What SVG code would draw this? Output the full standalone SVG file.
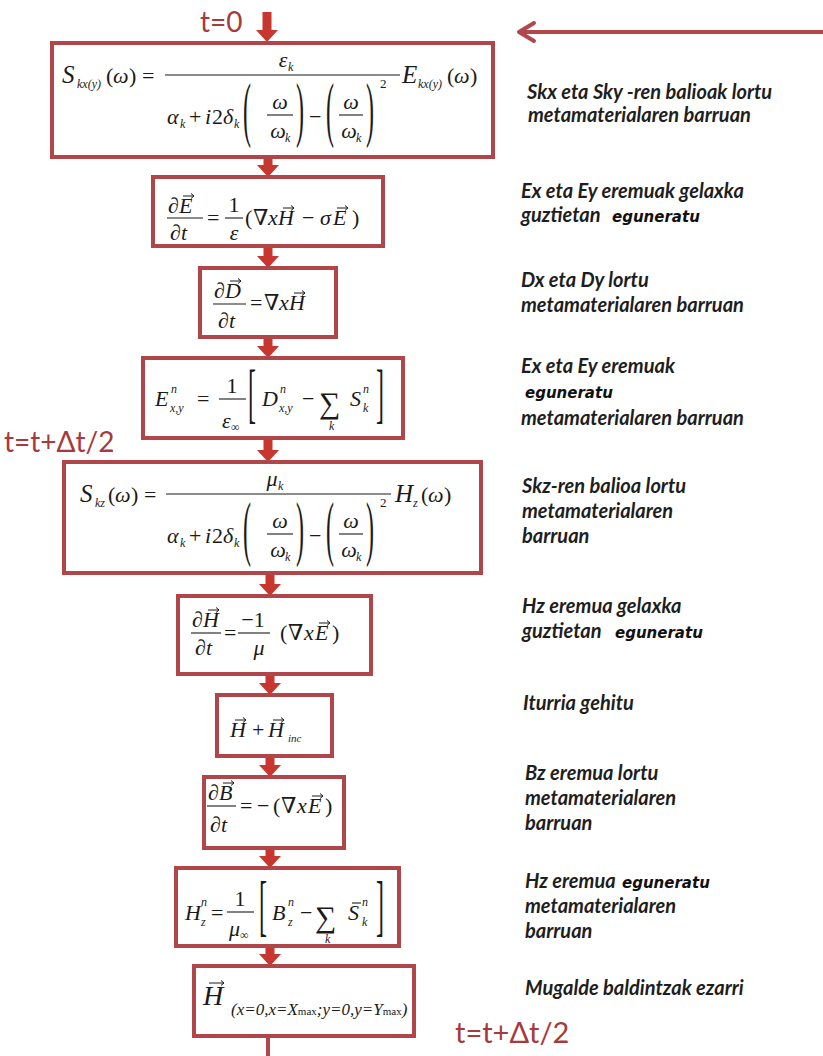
<svg xmlns="http://www.w3.org/2000/svg" width="823" height="1056" viewBox="0 0 823 1056">
<style>
.box{fill:#fff;stroke:#b0454a;stroke-width:4}
.arr{fill:#c7362f}
.f{font-family:"Liberation Serif","DejaVu Serif",serif;font-size:22px;fill:#1a1a1a}
.it{font-style:italic}
.sb{font-size:12px}
.bar{stroke:#1a1a1a;stroke-width:1.1}
.va{fill:none;stroke:#1a1a1a;stroke-width:1}
.lbl{font-family:Lato,"Open Sans",sans-serif;font-weight:bold;font-style:italic;font-size:20px;fill:#1e1e1e}
.eg{font-family:"DejaVu Sans",sans-serif;font-weight:bold;font-style:italic;font-size:15px;fill:#111}
.red{font-family:Lato,"Open Sans",sans-serif;font-size:28px;fill:#a63a3c}
</style>
<rect width="823" height="1056" fill="#fff"/>
<g id="connectors">
<path d="M823 32 H521" fill="none" stroke="#b0474b" stroke-width="4"/>
<path d="M534 23 L519 32 L534 41" fill="none" stroke="#b0474b" stroke-width="4" stroke-linecap="round" stroke-linejoin="round"/>
<polygon class="arr" points="262.5,12 271.5,12 271.5,30 278,30 267,42 256,30 262.5,30"/>
<polygon class="arr" points="263.5,158 272.5,158 272.5,165 279,165 268,177 257,165 263.5,165"/>
<polygon class="arr" points="263.5,247 272.5,247 272.5,256 279,256 268,268 257,256 263.5,256"/>
<polygon class="arr" points="263.5,338 272.5,338 272.5,346 279,346 268,358 257,346 263.5,346"/>
<polygon class="arr" points="263.5,439 272.5,439 272.5,450 279,450 268,462 257,450 263.5,450"/>
<polygon class="arr" points="265.5,574 274.5,574 274.5,584 281,584 270,596 259,584 265.5,584"/>
<polygon class="arr" points="265.5,676 274.5,676 274.5,683 281,683 270,695 259,683 265.5,683"/>
<polygon class="arr" points="265.5,757 274.5,757 274.5,765 281,765 270,777 259,765 265.5,765"/>
<polygon class="arr" points="265.5,849 274.5,849 274.5,856 281,856 270,868 259,856 265.5,856"/>
<polygon class="arr" points="265.5,947 274.5,947 274.5,954 281,954 270,966 259,954 265.5,954"/>
<path d="M268 1036 V1056" stroke="#b0454a" stroke-width="4"/>
</g>
<g id="time-labels">
<text class="red" x="200" y="32">t=0</text>
<text class="red" x="4" y="452">t=t+Δt/2</text>
<text class="red" x="455" y="1043" style="font-size:29px">t=t+Δt/2</text>
</g>
<g id="node1">
<rect class="box" x="52" y="43" width="441" height="114"/>
<text class="f it" x="62" y="83" style="font-size:25px">S</text>
<text class="f it sb" x="77" y="88">kx(y)</text>
<text class="f" x="106" y="83">(</text><text class="f it" x="113" y="83">ω</text><text class="f" x="129" y="83">)</text><text class="f" x="142" y="83">=</text>
<line class="bar" x1="165" y1="75" x2="400" y2="75"/>
<text class="f it" x="283" y="67" text-anchor="middle">ε</text><text class="f it sb" x="288" y="71">k</text>
<text class="f it" x="167" y="124">α</text><text class="f it sb" x="180" y="128">k</text>
<text class="f" x="189" y="124">+</text><text class="f it" x="205" y="124">i</text><text class="f" x="212" y="124">2</text><text class="f it" x="223" y="124">δ</text><text class="f it sb" x="234" y="128">k</text>
<text class="f" style="font-size:24px" transform="translate(243,133) scale(1,3)">(</text>
<text class="f it" x="280" y="109" text-anchor="middle">ω</text><line class="bar" x1="267" y1="115" x2="293" y2="115"/><text class="f it" x="278" y="138" text-anchor="middle">ω</text><text class="f it sb" x="285" y="142">k</text>
<text class="f" style="font-size:24px" transform="translate(296,133) scale(1,3)">)</text>
<text class="f" x="309" y="124">−</text>
<text class="f" style="font-size:24px" transform="translate(326,133) scale(1,3)">(</text>
<text class="f it" x="351" y="109" text-anchor="middle">ω</text><line class="bar" x1="339" y1="115" x2="363" y2="115"/><text class="f it" x="349" y="138" text-anchor="middle">ω</text><text class="f it sb" x="356" y="142">k</text>
<text class="f" style="font-size:24px" transform="translate(366,133) scale(1,3)">)</text>
<text class="f" x="380" y="88" style="font-size:13px">2</text>
<text class="f it" x="402" y="83" style="font-size:25px">E</text><text class="f it sb" x="418" y="88">kx(y)</text>
<text class="f" x="447" y="83">(</text><text class="f it" x="454" y="83">ω</text><text class="f" x="470" y="83">)</text>
</g>
<g id="node2">
<rect class="box" x="153" y="177" width="230" height="69"/>
<text class="f" x="168" y="213">∂</text><text class="f it" x="179" y="213">E</text>
<path class="va" d="M183 196 H194 M191 193.5 L194 196 L191 198.5"/>
<line class="bar" x1="167" y1="218" x2="203" y2="218"/>
<text class="f" x="170" y="240">∂</text><text class="f it" x="181" y="240">t</text>
<text class="f" x="207" y="225">=</text>
<text class="f" x="234" y="212" text-anchor="middle">1</text>
<line class="bar" x1="225" y1="218" x2="243" y2="218"/>
<text class="f it" x="234" y="240" text-anchor="middle">ε</text>
<text class="f" x="245" y="225">(</text><text class="f" x="253" y="225">∇</text><text class="f it" x="268" y="225">x</text><text class="f it" x="278" y="225">H</text>
<path class="va" d="M283 208 H294 M291 205.5 L294 208 L291 210.5"/>
<text class="f" x="302" y="225">−</text><text class="f it" x="320" y="225">σ</text><text class="f it" x="333" y="225">E</text>
<path class="va" d="M337 208 H348 M345 205.5 L348 208 L345 210.5"/>
<text class="f" x="352" y="225">)</text>
</g>
<g id="node3">
<rect class="box" x="200" y="268" width="136" height="69"/>
<text class="f" x="214" y="298">∂</text><text class="f it" x="225" y="298">D</text>
<path class="va" d="M230 281 H241 M238 278.5 L241 281 L238 283.5"/>
<line class="bar" x1="213" y1="304" x2="246" y2="304"/>
<text class="f" x="218" y="328">∂</text><text class="f it" x="229" y="328">t</text>
<text class="f" x="250" y="310">=</text>
<text class="f" x="264" y="310">∇</text><text class="f it" x="279" y="310">x</text><text class="f it" x="289" y="310">H</text>
<path class="va" d="M294 293 H305 M302 290.5 L305 293 L302 295.5"/>
</g>
<g id="node4">
<rect class="box" x="143" y="358" width="260" height="80"/>
<text class="f it" x="155" y="406">E</text><text class="f it sb" x="171" y="393">n</text><text class="f it sb" x="170" y="412">x,y</text>
<text class="f" x="197" y="406">=</text>
<text class="f" x="232" y="393" text-anchor="middle">1</text>
<line class="bar" x1="219" y1="399" x2="246" y2="399"/>
<text class="f it" x="222" y="428">ε</text><text class="f sb" x="231" y="431">∞</text>
<text class="f" style="font-size:24px" transform="translate(248,415) scale(1,2.7)">[</text>
<text class="f it" x="262" y="406">D</text><text class="f it sb" x="280" y="393">n</text><text class="f it sb" x="279" y="412">x,y</text>
<text class="f" x="302" y="406">−</text>
<text class="f" x="319" y="413" style="font-size:30px">∑</text><text class="f it sb" x="329" y="430">k</text>
<text class="f it" x="350" y="406">S</text><text class="f it sb" x="363" y="393">n</text><text class="f it sb" x="363" y="412">k</text>
<text class="f" style="font-size:24px" transform="translate(376,415) scale(1,2.7)">]</text>
</g>
<g id="node5">
<rect class="box" x="64" y="462" width="417" height="111"/>
<text class="f it" x="80" y="502" style="font-size:25px">S</text>
<text class="f it sb" x="95" y="507">kz</text>
<text class="f" x="108" y="502">(</text><text class="f it" x="115" y="502">ω</text><text class="f" x="131" y="502">)</text><text class="f" x="144" y="502">=</text>
<line class="bar" x1="166" y1="494" x2="391" y2="494"/>
<text class="f it" x="272" y="486" text-anchor="middle">μ</text><text class="f it sb" x="278" y="490">k</text>
<text class="f it" x="167" y="543">α</text><text class="f it sb" x="180" y="547">k</text>
<text class="f" x="189" y="543">+</text><text class="f it" x="205" y="543">i</text><text class="f" x="212" y="543">2</text><text class="f it" x="223" y="543">δ</text><text class="f it sb" x="234" y="547">k</text>
<text class="f" style="font-size:24px" transform="translate(243,552) scale(1,3)">(</text>
<text class="f it" x="280" y="528" text-anchor="middle">ω</text><line class="bar" x1="267" y1="534" x2="293" y2="534"/><text class="f it" x="278" y="557" text-anchor="middle">ω</text><text class="f it sb" x="285" y="561">k</text>
<text class="f" style="font-size:24px" transform="translate(296,552) scale(1,3)">)</text>
<text class="f" x="309" y="543">−</text>
<text class="f" style="font-size:24px" transform="translate(326,552) scale(1,3)">(</text>
<text class="f it" x="351" y="528" text-anchor="middle">ω</text><line class="bar" x1="339" y1="534" x2="363" y2="534"/><text class="f it" x="349" y="557" text-anchor="middle">ω</text><text class="f it sb" x="356" y="561">k</text>
<text class="f" style="font-size:24px" transform="translate(366,552) scale(1,3)">)</text>
<text class="f" x="380" y="507" style="font-size:13px">2</text>
<text class="f it" x="395" y="502" style="font-size:25px">H</text><text class="f it sb" x="413" y="507">z</text>
<text class="f" x="421" y="502">(</text><text class="f it" x="428" y="502">ω</text><text class="f" x="444" y="502">)</text>
</g>
<g id="node6">
<rect class="box" x="178" y="596" width="193" height="78"/>
<text class="f" x="192" y="627">∂</text><text class="f it" x="203" y="627">H</text>
<path class="va" d="M208 610 H219 M216 607.5 L219 610 L216 612.5"/>
<line class="bar" x1="191" y1="633" x2="221" y2="633"/>
<text class="f" x="195" y="655">∂</text><text class="f it" x="206" y="655">t</text>
<text class="f" x="224" y="640">=</text>
<text class="f" x="253" y="627" text-anchor="middle">−1</text>
<line class="bar" x1="238" y1="633" x2="270" y2="633"/>
<text class="f it" x="259" y="655" text-anchor="middle">μ</text>
<text class="f" x="280" y="640">(</text><text class="f" x="288" y="640">∇</text><text class="f it" x="304" y="640">x</text><text class="f it" x="315" y="640">E</text>
<path class="va" d="M319 623 H330 M327 620.5 L330 623 L327 625.5"/>
<text class="f" x="332" y="640">)</text>
</g>
<g id="node7">
<rect class="box" x="217" y="695" width="115" height="61"/>
<text class="f it" x="230" y="737">H</text>
<path class="va" d="M235 720 H246 M243 717.5 L246 720 L243 722.5"/>
<text class="f" x="252" y="737">+</text>
<text class="f it" x="268" y="737">H</text>
<path class="va" d="M273 720 H284 M281 717.5 L284 720 L281 722.5"/>
<text class="f it" x="288" y="742" style="font-size:11px">inc</text>
</g>
<g id="node8">
<rect class="box" x="204" y="777" width="140" height="71"/>
<text class="f" x="208" y="800">∂</text><text class="f it" x="219" y="800">B</text>
<path class="va" d="M223 783 H234 M231 780.5 L234 783 L231 785.5"/>
<line class="bar" x1="207" y1="806" x2="236" y2="806"/>
<text class="f" x="210" y="832">∂</text><text class="f it" x="221" y="832">t</text>
<text class="f" x="240" y="813">=</text><text class="f" x="257" y="813">−</text>
<text class="f" x="273" y="813">(</text><text class="f" x="281" y="813">∇</text><text class="f it" x="297" y="813">x</text><text class="f it" x="308" y="813">E</text>
<path class="va" d="M312 796 H323 M320 793.5 L323 796 L320 798.5"/>
<text class="f" x="325" y="813">)</text>
</g>
<g id="node9">
<rect class="box" x="176" y="868" width="223" height="78"/>
<text class="f it" x="185" y="920">H</text><text class="f it sb" x="201" y="906">n</text><text class="f it sb" x="201" y="926">z</text>
<text class="f" x="211" y="920">=</text>
<text class="f" x="240" y="906" text-anchor="middle">1</text>
<line class="bar" x1="227" y1="912" x2="254" y2="912"/>
<text class="f it" x="229" y="936">μ</text><text class="f sb" x="240" y="939">∞</text>
<text class="f" style="font-size:24px" transform="translate(259,928) scale(1,2.8)">[</text>
<text class="f it" x="272" y="920">B</text><text class="f it sb" x="288" y="906">n</text><text class="f it sb" x="288" y="926">z</text>
<text class="f" x="300" y="920">−</text>
<text class="f" x="315" y="927" style="font-size:30px">∑</text><text class="f it sb" x="325" y="943">k</text>
<text class="f it" x="348" y="920">S</text>
<line class="bar" x1="352" y1="903" x2="361" y2="903"/>
<text class="f it sb" x="362" y="906">n</text><text class="f it sb" x="362" y="926">k</text>
<text class="f" style="font-size:24px" transform="translate(376,928) scale(1,2.8)">]</text>
</g>
<g id="node10">
<rect class="box" x="194" y="966" width="220" height="70"/>
<text class="f it" x="203" y="1005" style="font-size:28px">H</text>
<path class="va" d="M209 983 H224 M221 980.5 L224 983 L221 985.5"/>
<text class="f it" x="231" y="1015" style="font-size:17px">(x=0,x=X<tspan style="font-size:11px;font-style:normal">max</tspan>;y=0,y=Y<tspan style="font-size:11px;font-style:normal">max</tspan>)</text>
</g>
<g id="descriptions">
<text class="lbl" x="527" y="99">Skx eta Sky -ren balioak lortu</text>
<text class="lbl" x="528" y="122">metamaterialaren barruan</text>
<text class="lbl" x="521" y="198">Ex eta Ey eremuak gelaxka</text>
<text class="lbl" x="521" y="222">guztietan</text><text class="eg" x="612" y="222">eguneratu</text>
<text class="lbl" x="521" y="287">Dx eta Dy lortu</text>
<text class="lbl" x="521" y="312">metamaterialaren barruan</text>
<text class="lbl" x="521" y="373">Ex eta Ey eremuak</text>
<text class="eg" x="525" y="398">eguneratu</text>
<text class="lbl" x="521" y="425">metamaterialaren barruan</text>
<text class="lbl" x="522" y="493">Skz-ren balioa lortu</text>
<text class="lbl" x="522" y="518">metamaterialaren</text>
<text class="lbl" x="522" y="543">barruan</text>
<text class="lbl" x="522" y="613">Hz eremua gelaxka</text>
<text class="lbl" x="522" y="638">guztietan</text><text class="eg" x="615" y="638">eguneratu</text>
<text class="lbl" x="523" y="710">Iturria gehitu</text>
<text class="lbl" x="525" y="780">Bz eremua lortu</text>
<text class="lbl" x="525" y="805">metamaterialaren</text>
<text class="lbl" x="525" y="830">barruan</text>
<text class="lbl" x="525" y="888">Hz eremua</text><text class="eg" x="622" y="888">eguneratu</text>
<text class="lbl" x="525" y="913">metamaterialaren</text>
<text class="lbl" x="525" y="938">barruan</text>
<text class="lbl" x="525" y="995">Mugalde baldintzak ezarri</text>
</g>
</svg>
